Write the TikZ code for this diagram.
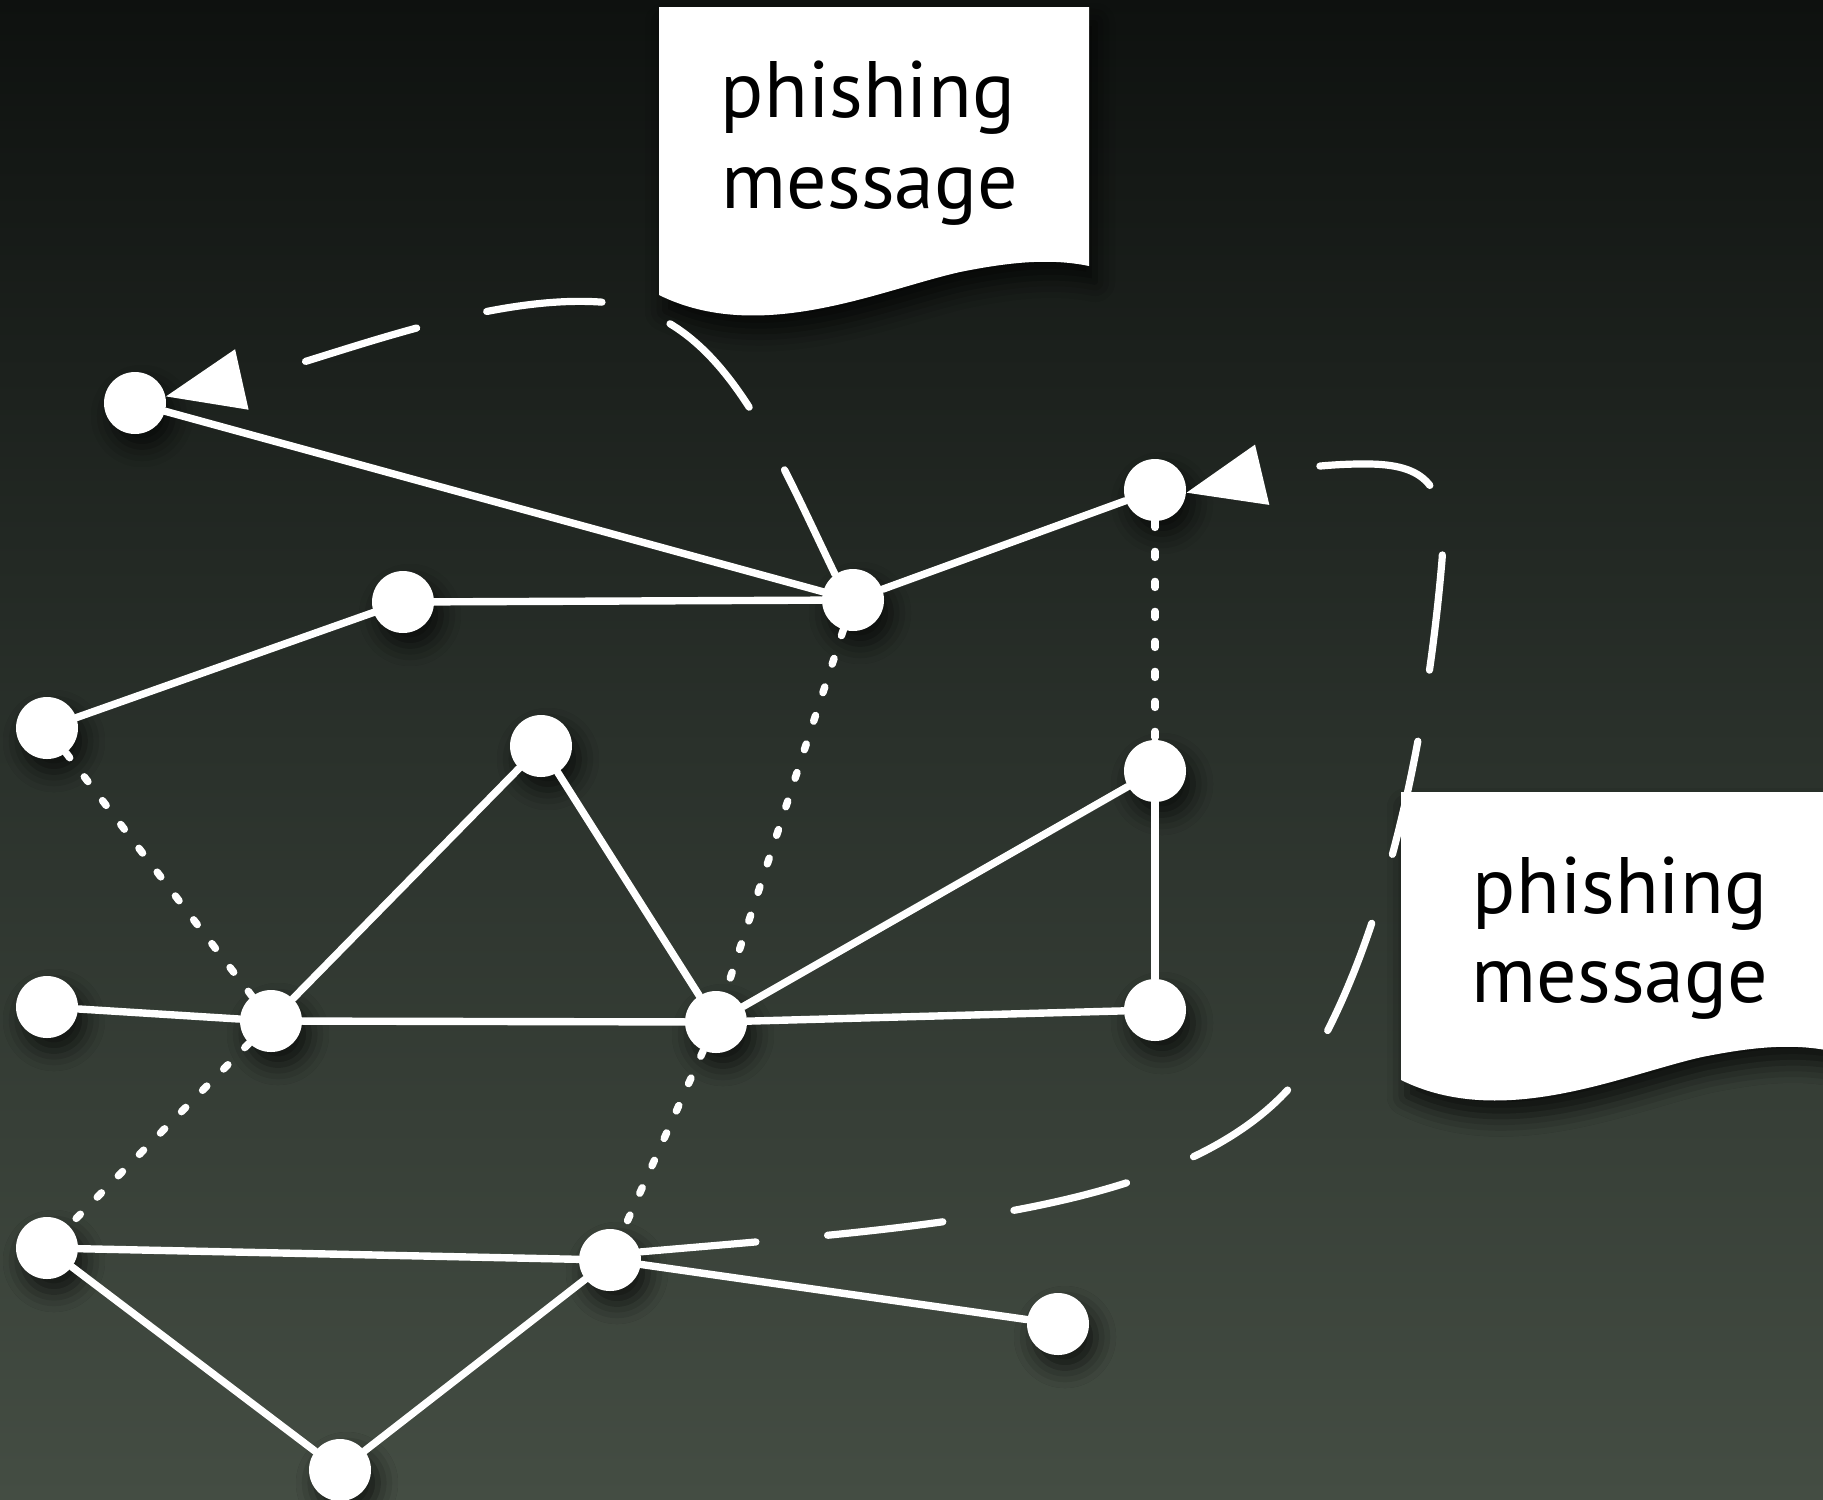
\documentclass[tikz,border=0pt]{standalone}
\usepackage{fontspec}
\setmainfont{PT Sans}
\usetikzlibrary{arrows.meta,shadows.blur}

\definecolor{bgtop}{RGB}{14,17,15}
\definecolor{bgmid}{RGB}{42,49,43}
\definecolor{bgbot}{RGB}{68,77,67}

\tikzset{
  netnode/.style={circle, fill=white, inner sep=0pt, minimum size=31pt,
    blur shadow={shadow xshift=3.5pt, shadow yshift=-6.5pt, shadow blur radius=10pt, shadow opacity=70}},
  link/.style={draw=white, line width=3.7pt, line cap=round},
  weaklink/.style={link, dash pattern=on 3pt off 12pt},
  hop/.style={draw=white, line width=3.6pt, line cap=round,
    dash pattern=on 58pt off 36pt, -{Triangle[length=39pt,width=30pt]}},
  msgfont/.style={font=\fontsize{40}{45}\selectfont, text=black, inner sep=0pt},
  sheet/.style={fill=white,
    blur shadow={shadow xshift=3pt, shadow yshift=-8pt, shadow blur radius=10pt, shadow opacity=75}},
}

\begin{document}
\begin{tikzpicture}[x=0.5pt, y=-0.5pt]
\useasboundingbox (0,0) rectangle (1823,1499);
\clip (0,0) rectangle (1823,1499);
\shade[top color=bgtop, bottom color=bgbot, middle color=bgmid] (0,0) rectangle (1823,1499);

% network nodes
\node[netnode] (A) at (135,403) {};
\node[netnode] (B) at (403,602) {};
\node[netnode] (C) at (853,600) {};
\node[netnode] (D) at (1155,490) {};
\node[netnode] (E) at (47,728) {};
\node[netnode] (F) at (541,746) {};
\node[netnode] (G) at (1155,771) {};
\node[netnode] (H) at (47,1007) {};
\node[netnode] (I) at (271,1021) {};
\node[netnode] (J) at (716,1022) {};
\node[netnode] (K) at (1155,1010) {};
\node[netnode] (L) at (47,1248) {};
\node[netnode] (M) at (610,1260) {};
\node[netnode] (N) at (1058,1324) {};
\node[netnode] (O) at (340,1470) {};

% solid links
\foreach \u/\v in {A/C, B/C, C/D, B/E, F/I, F/J, G/J, G/K, H/I, I/J, J/K, L/M, L/O, O/M, M/N}
  \draw[link] (\u) -- (\v);
% weak links
\foreach \u/\v in {D/G, E/I, I/L, C/J, J/M}
  \draw[weaklink] (\u) -- (\v);

% message sheets
\foreach \dx/\dy in {0/0, 742/785}
  \path[sheet, shift={(\dx,\dy)}] (659,295) -- (659,7) -- (1089,7) -- (1089,266)
    .. controls (1050,258) and (1010,262) .. (960,272)
    .. controls (880,290) and (760,345) .. (659,295) -- cycle;

% message routes
\draw[hop] (C.125) .. controls (770,440) and (720,310) .. (600,302)
  .. controls (480,294) and (320,362) .. (A.12);
\draw[hop] (M.15) .. controls (950,1225) and (1230,1210) .. (1320,1045)
  .. controls (1380,935) and (1425,760) .. (1442,560)
  .. controls (1447,490) and (1430,465) .. (1370,464)
  .. controls (1300,463) and (1240,480) .. (D.-5);

% labels
\node[msgfont, anchor=base] (topa) at (868,117) {phishing};
\node[msgfont, anchor=base] (topb) at (870,208) {message};
\node[msgfont, anchor=base] (sidea) at (1620,913) {phishing};
\node[msgfont, anchor=base] (sideb) at (1620,1002) {message};
\end{tikzpicture}
\end{document}
